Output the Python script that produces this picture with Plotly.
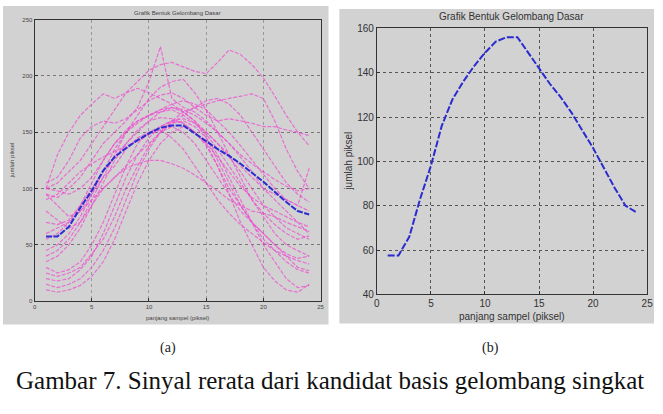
import plotly.graph_objects as go

# ---------------- data ----------------
x_samples = list(range(1, 25))

mean_signal = [57.5, 57.5, 66, 83, 98, 116, 128, 136, 143, 149, 154, 156,
               156, 149, 142, 135, 129, 122, 114, 106, 97, 88, 80, 77]

cand_01 = [95, 92, 100, 110, 125, 140, 150, 160, 172, 195, 226, 180, 172, 168, 160, 150, 140, 128, 115, 100, 90, 80, 70, 60]
cand_02 = [100, 105, 115, 125, 140, 155, 170, 185, 195, 205, 210, 212, 208, 204, 202, 212, 223, 219, 210, 198, 182, 165, 150, 138]
cand_03 = [40, 45, 55, 70, 90, 110, 130, 150, 165, 180, 190, 195, 197, 185, 170, 150, 130, 110, 90, 75, 60, 50, 45, 40]
cand_04 = [60, 65, 70, 80, 90, 100, 110, 120, 130, 140, 150, 160, 168, 172, 175, 178, 180, 182, 184, 180, 160, 135, 115, 100]
cand_05 = [100, 130, 150, 165, 175, 184, 180, 185, 189, 185, 180, 175, 168, 160, 150, 140, 130, 120, 110, 100, 95, 90, 85, 80]
cand_06 = [105, 110, 125, 145, 155, 160, 158, 162, 170, 178, 183, 185, 180, 172, 165, 160, 162, 160, 158, 155, 155, 152, 150, 147]
cand_07 = [30, 25, 28, 35, 50, 70, 95, 120, 140, 150, 152, 145, 135, 120, 105, 90, 78, 68, 60, 52, 45, 40, 36, 33]
cand_08 = [20, 18, 20, 28, 40, 60, 85, 110, 130, 145, 155, 160, 158, 150, 138, 120, 100, 85, 70, 55, 45, 35, 28, 25]
cand_09 = [15, 12, 15, 20, 30, 45, 65, 90, 115, 135, 150, 158, 160, 155, 145, 130, 110, 90, 70, 50, 35, 20, 12, 14]
cand_10 = [10, 8, 10, 14, 22, 35, 55, 80, 105, 125, 140, 150, 155, 150, 140, 120, 95, 70, 50, 30, 18, 10, 8, 15]
cand_11 = [25, 22, 25, 30, 42, 55, 75, 100, 120, 138, 150, 155, 150, 140, 125, 110, 95, 80, 70, 60, 50, 40, 30, 27]
cand_12 = [95, 85, 75, 80, 95, 110, 120, 135, 145, 150, 155, 160, 162, 158, 150, 140, 128, 115, 100, 85, 75, 65, 60, 55]
cand_13 = [80, 72, 65, 70, 85, 100, 110, 118, 122, 125, 125, 122, 118, 112, 105, 98, 90, 85, 80, 78, 75, 70, 66, 62]
cand_14 = [90, 95, 105, 115, 122, 128, 133, 138, 142, 148, 152, 158, 165, 172, 178, 180, 175, 165, 150, 135, 120, 105, 95, 88]
cand_15 = [55, 60, 70, 85, 100, 115, 128, 140, 150, 160, 168, 172, 170, 165, 158, 150, 140, 130, 122, 115, 108, 102, 98, 100]
cand_16 = [45, 50, 60, 75, 95, 115, 135, 150, 160, 165, 168, 170, 165, 158, 148, 135, 120, 105, 90, 78, 68, 60, 55, 58]
cand_17 = [70, 68, 72, 85, 105, 125, 140, 152, 160, 165, 170, 172, 168, 160, 145, 125, 105, 85, 70, 60, 50, 42, 38, 40]
cand_18 = [35, 40, 50, 65, 85, 105, 125, 140, 152, 160, 163, 162, 158, 150, 140, 128, 115, 102, 92, 85, 80, 75, 70, 66]
cand_19 = [100, 98, 95, 100, 110, 125, 140, 150, 158, 165, 170, 175, 178, 175, 170, 160, 150, 138, 125, 112, 100, 90, 85, 118]

candidates = [cand_01, cand_02, cand_03, cand_04, cand_05, cand_06, cand_07, cand_08,
              cand_09, cand_10, cand_11, cand_12, cand_13, cand_14, cand_15, cand_16,
              cand_17, cand_18, cand_19]

x_ticks = [0, 5, 10, 15, 20, 25]
left_y_ticks = [0, 50, 100, 150, 200, 250]
right_y_ticks = [40, 60, 80, 100, 120, 140, 160]

title_text = "Grafik Bentuk Gelombang Dasar"
x_label = "panjang sampel (piksel)"
y_label = "jumlah piksel"
caption = "Gambar 7. Sinyal rerata dari kandidat basis gelombang singkat"

# ---------------- figure ----------------
W, H = 663, 414
fig = go.Figure()

magenta = "rgba(240,70,210,0.7)"
blue = "#2b2bd0"

for c in candidates:
    fig.add_trace(go.Scatter(x=x_samples, y=c, mode="lines", xaxis="x", yaxis="y",
                             line=dict(color=magenta, width=1.2, dash="4px,1.5px"),
                             showlegend=False, hoverinfo="skip"))
fig.add_trace(go.Scatter(x=x_samples, y=mean_signal, mode="lines", xaxis="x", yaxis="y",
                         line=dict(color=blue, width=2, dash="6px,1.5px"), showlegend=False))
fig.add_trace(go.Scatter(x=x_samples, y=mean_signal, mode="lines", xaxis="x2", yaxis="y2",
                         line=dict(color=blue, width=2, dash="7px,2px"), showlegend=False))

def px(xp):
    return xp / W

def py(yp):
    return 1 - yp / H

axis_common = dict(showline=True, linecolor="#333", linewidth=1, mirror=True,
                   ticks="inside", ticklen=3, tickcolor="#333",
                   showgrid=True, griddash="dot", gridwidth=1,
                   zeroline=False)

fig.update_layout(
    width=W, height=H,
    margin=dict(l=0, r=0, t=0, b=0),
    paper_bgcolor="white", plot_bgcolor="white",
    xaxis=dict(domain=[px(32), px(322)], range=[0, 25], tickvals=x_ticks, gridcolor="#999",
               tickfont=dict(size=6, family="Liberation Sans", color="#444"),
               anchor="y", **axis_common),
    yaxis=dict(domain=[py(304), py(14)], range=[0, 250], tickvals=left_y_ticks, gridcolor="#777",
               tickfont=dict(size=6, family="Liberation Sans", color="#444"),
               anchor="x", **axis_common),
    xaxis2=dict(domain=[px(379), px(653)], range=[0, 25], tickvals=x_ticks, gridcolor="#555",
                tickfont=dict(size=10, family="Liberation Sans", color="#333"),
                anchor="y2", **axis_common),
    yaxis2=dict(domain=[py(297), py(23)], range=[40, 160], tickvals=right_y_ticks, gridcolor="#555",
                tickfont=dict(size=10, family="Liberation Sans", color="#333"),
                anchor="x2", **axis_common),
)

gray = "#d2d2d2"
fig.add_shape(type="rect", xref="paper", yref="paper", x0=px(0), x1=px(330), y0=py(328), y1=py(0),
              fillcolor=gray, line=dict(width=0), layer="below")
fig.add_shape(type="rect", xref="paper", yref="paper", x0=px(341), x1=px(660), y0=py(327), y1=py(3),
              fillcolor=gray, line=dict(width=0), layer="below")

def ann(text, xp, yp, size, family="Liberation Sans", color="#444", angle=0):
    fig.add_annotation(text=text, x=px(xp), y=py(yp), xref="paper", yref="paper",
                       showarrow=False, textangle=angle,
                       font=dict(size=size, family=family, color=color),
                       xanchor="center", yanchor="middle")

ann(title_text, 177, 7, 6)
ann(x_label, 177, 321, 6)
ann(y_label, 10, 159, 6, angle=-90)
ann(title_text, 516, 11, 10, color="#333")
ann(x_label, 516, 320, 10, color="#333")
ann(y_label, 350, 160, 10, color="#333", angle=-90)

ann("(a)", 167, 352, 14, family="Liberation Serif", color="#222")
ann("(b)", 494, 352, 14, family="Liberation Serif", color="#222")
ann(caption, 332, 386, 25, family="Liberation Serif", color="#111")

fig.write_html("out.html")
